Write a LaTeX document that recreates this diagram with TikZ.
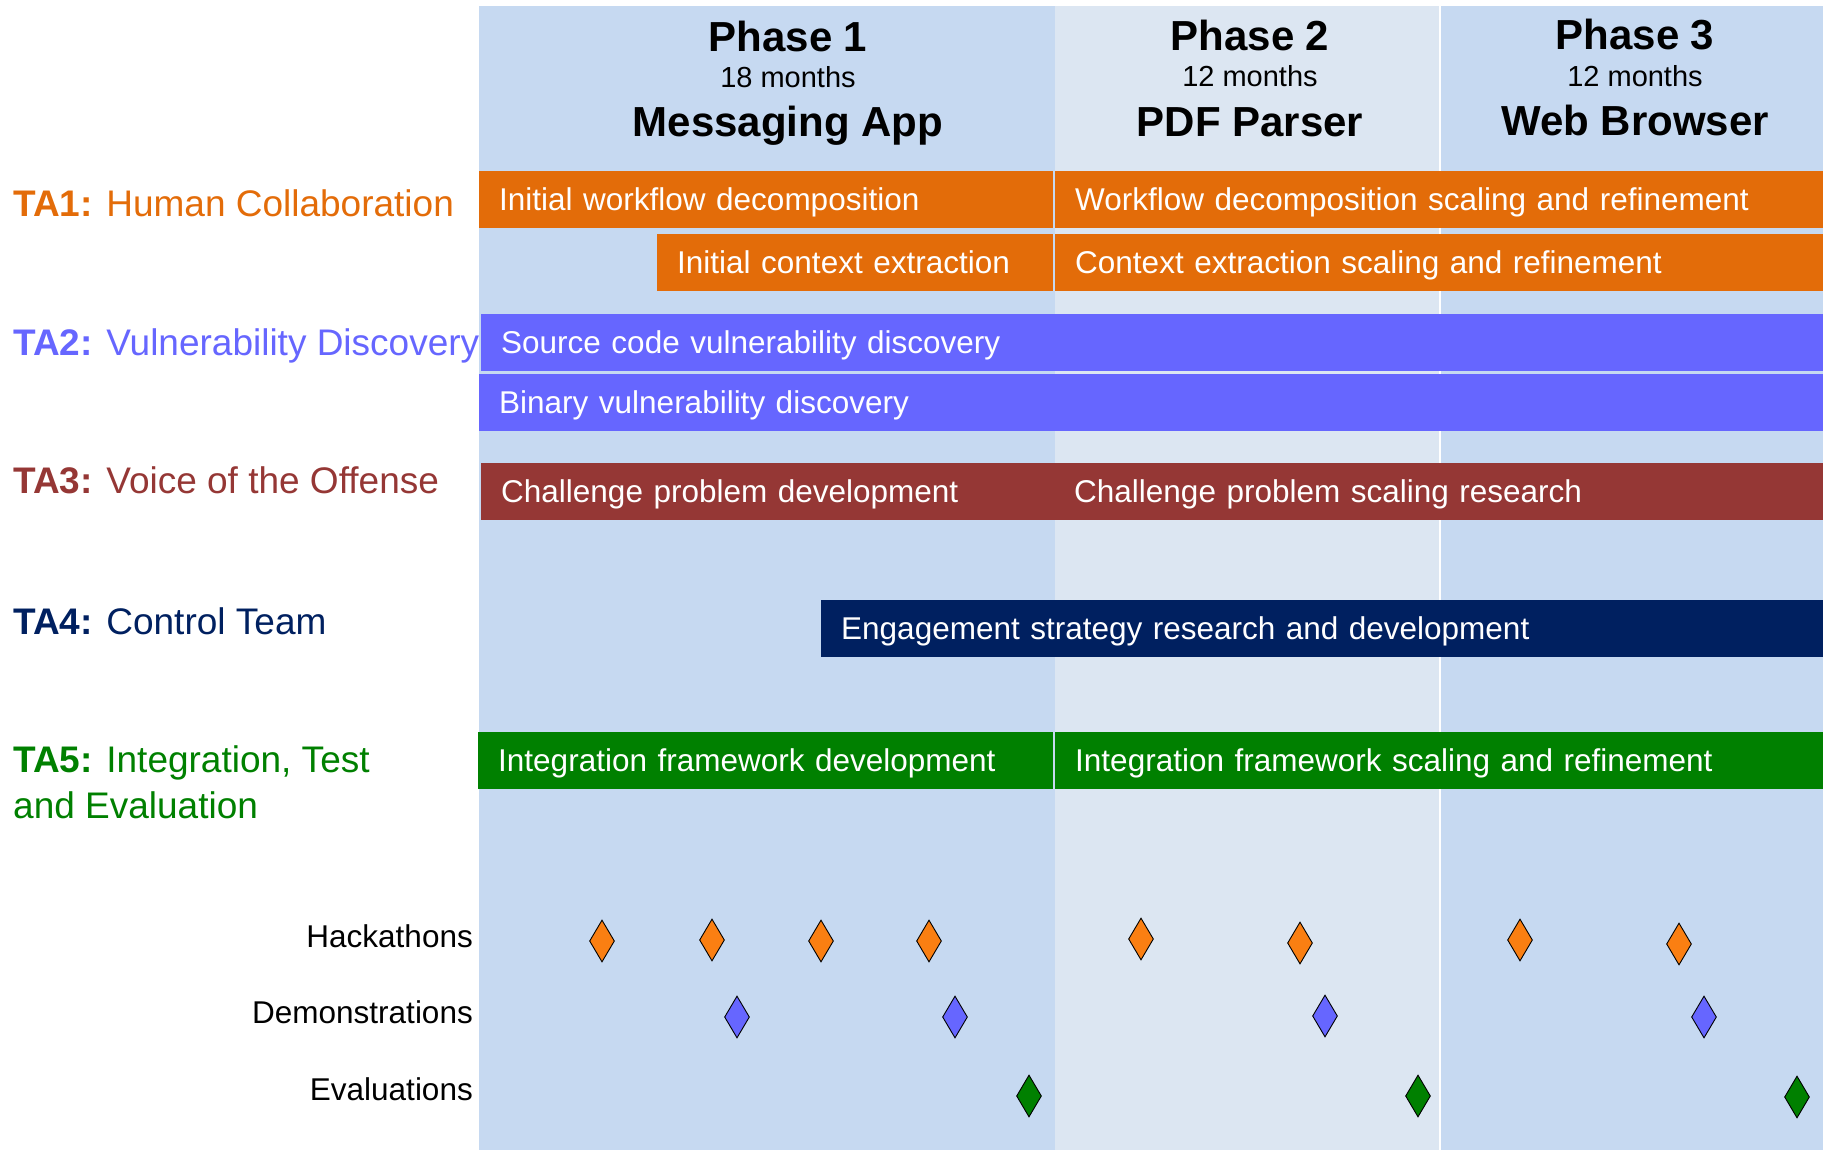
\documentclass[tikz,border=0pt]{standalone}
\usepackage{fontspec}
\setmainfont{Liberation Sans}
\usetikzlibrary{shapes.geometric}
\definecolor{colA}{HTML}{C6D9F1}
\definecolor{colB}{HTML}{DCE6F2}
\definecolor{taorange}{HTML}{E36C09}
\definecolor{tablue}{HTML}{6666FF}
\definecolor{tared}{HTML}{953735}
\definecolor{tanavy}{HTML}{002060}
\definecolor{tagreen}{HTML}{008000}
\definecolor{msorange}{HTML}{FA7F12}
\begin{document}
\begin{tikzpicture}[x=1pt,y=-1pt,
  bar/.style={anchor=west, minimum height=57pt, inner xsep=20pt, inner ysep=0pt,
    text=white, font=\fontsize{31.5}{36}\selectfont, text height=22.5pt, text depth=0pt, align=left},
  barw/.style={minimum width=#1pt, text width={#1pt-40pt}},
  head/.style={anchor=base, font=\fontsize{42}{50}\selectfont\bfseries, inner sep=0pt},
  months/.style={anchor=base, font=\fontsize{29}{34}\selectfont, inner sep=0pt},
  talabel/.style={anchor=base west, font=\fontsize{37}{46}\selectfont, inner sep=0pt, align=left},
  mslabel/.style={anchor=base east, font=\fontsize{31.5}{36}\selectfont, inner sep=0pt},
  mile/.style={diamond, draw=black, line width=0.9pt, minimum width=25pt, minimum height=42pt, inner sep=0pt},
]
\useasboundingbox (0,0) rectangle (1823,1150);
% phase columns
\fill[colA] (479,6) rectangle (1055,1150);
\fill[colB] (1055,6) rectangle (1440,1150);
\fill[colA] (1440,6) rectangle (1823,1150);
\draw[white, line width=1.5pt] (1440,6) -- (1440,1150);
% headers
\node[head] (p1) at (788,52) {Phase 1};
\node[months] (m1) at (788,88) {18 months};
\node[head] (t1) at (788,137) {Messaging App};
\node[head] (p2) at (1250,51) {Phase 2};
\node[months] (m2) at (1250,87) {12 months};
\node[head] (t2) at (1250,137) {PDF Parser};
\node[head] (p3) at (1635,50) {Phase 3};
\node[months] (m3) at (1635,87) {12 months};
\node[head] (t3) at (1635,136) {Web Browser};
% TA labels
\node[talabel, text=taorange] (ta1) at (13,217) {\textbf{TA1:} Human Collaboration};
\node[talabel, text=tablue] (ta2) at (13,355) {\textbf{TA2:} Vulnerability Discovery};
\node[talabel, text=tared] (ta3) at (13,493) {\textbf{TA3:} Voice of the Offense};
\node[talabel, text=tanavy] (ta4) at (13,634) {\textbf{TA4:} Control Team};
\node[talabel, text=tagreen] (ta5) at (13,818) {\textbf{TA5:} Integration, Test\\and Evaluation};
% bars
\node[bar, barw=574, fill=taorange] (b1a) at (479,199.5) {Initial workflow decomposition};
\node[bar, barw=768, fill=taorange] (b1b) at (1055,199.5) {Workflow decomposition scaling and refinement};
\node[bar, barw=396, fill=taorange] (b1c) at (657,262.5) {Initial context extraction};
\node[bar, barw=768, fill=taorange] (b1d) at (1055,262.5) {Context extraction scaling and refinement};
\node[bar, barw=1342, fill=tablue] (b2a) at (481,342.5) {Source code vulnerability discovery};
\node[bar, barw=1344, fill=tablue] (b2b) at (479,402.5) {Binary vulnerability discovery};
\node[bar, barw=574, fill=tared] (b3a) at (481,491) {Challenge problem development};
\node[bar, barw=769, fill=tared] (b3b) at (1054,491) {Challenge problem scaling research};
\node[bar, barw=1002, fill=tanavy] (b4) at (821,628.5) {Engagement strategy research and development};
\node[bar, barw=575, fill=tagreen] (b5a) at (478,760.5) {Integration framework development};
\node[bar, barw=768, fill=tagreen] (b5b) at (1055,760.5) {Integration framework scaling and refinement};
% milestone labels
\node[mslabel] (lh) at (473,947) {Hackathons};
\node[mslabel] (ld) at (473,1023) {Demonstrations};
\node[mslabel] (le) at (473,1100) {Evaluations};
% hackathons
\node[mile, fill=msorange] (h1) at (602,941) {};
\node[mile, fill=msorange] (h2) at (712,940) {};
\node[mile, fill=msorange] (h3) at (821,941) {};
\node[mile, fill=msorange] (h4) at (929,941) {};
\node[mile, fill=msorange] (h5) at (1141,939) {};
\node[mile, fill=msorange] (h6) at (1300,943) {};
\node[mile, fill=msorange] (h7) at (1520,940) {};
\node[mile, fill=msorange] (h8) at (1679,944) {};
% demonstrations
\node[mile, fill=tablue] (d1) at (737,1017) {};
\node[mile, fill=tablue] (d2) at (955,1017) {};
\node[mile, fill=tablue] (d3) at (1325,1016) {};
\node[mile, fill=tablue] (d4) at (1704,1017) {};
% evaluations
\node[mile, fill=tagreen] (e1) at (1029,1096) {};
\node[mile, fill=tagreen] (e2) at (1418,1096) {};
\node[mile, fill=tagreen] (e3) at (1797,1097) {};
\end{tikzpicture}
\end{document}
